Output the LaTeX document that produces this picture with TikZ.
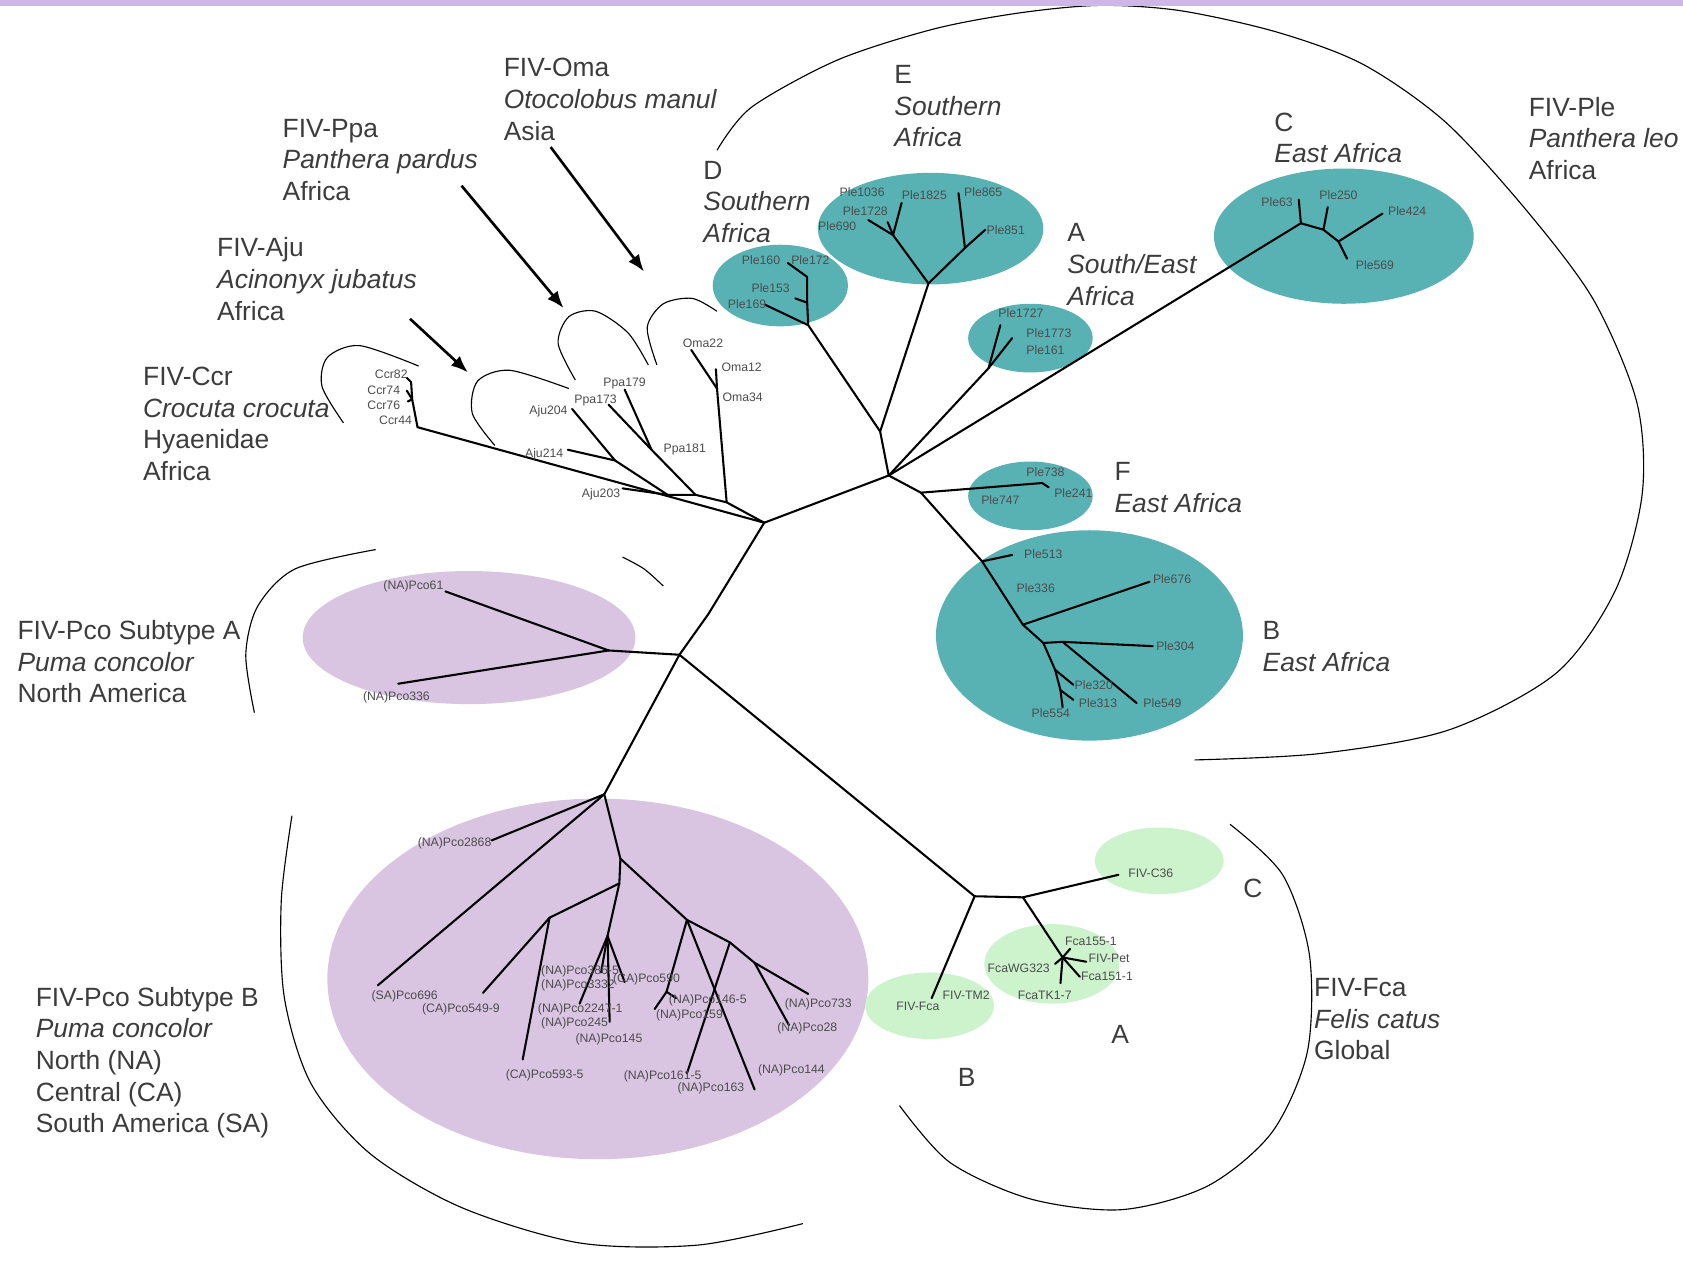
\documentclass[tikz,border=0pt]{standalone}
\usepackage{fontspec}
\setmainfont{Liberation Sans}
\usetikzlibrary{arrows.meta}
\definecolor{lionteal}{RGB}{88,178,180}
\definecolor{pumalilac}{RGB}{217,196,226}
\definecolor{catgreen}{RGB}{205,243,205}
\definecolor{topband}{RGB}{205,183,230}
\definecolor{labelgray}{RGB}{60,60,60}

\begin{document}
\begin{tikzpicture}[x=0.02cm,y=-0.02cm,>={Latex[length=9pt,width=7pt]},
  branch/.style={line width=1.1pt,line cap=round,line join=round},
  bracket/.style={line width=0.6pt},
  pointer/.style={->,line width=1.4pt},
  grp/.style={anchor=west,align=left,inner sep=0pt,text=labelgray,font=\fontsize{14}{16.8}\selectfont},
  leaf/.style={anchor=west,inner sep=0.5pt,text=black!70,font=\fontsize{6.5}{7}\selectfont},
  leafr/.style={leaf,anchor=east}]
\useasboundingbox (0,0) rectangle (1568,1174);

% coloured clades
\fill[lionteal] (867,213) ellipse [x radius=105, y radius=52];
\fill[lionteal] (727,266) ellipse [x radius=63, y radius=38];
\fill[lionteal] (960,315) ellipse [x radius=58, y radius=32];
\fill[lionteal] (1252,220) ellipse [x radius=121, y radius=63];
\fill[lionteal] (960,462) ellipse [x radius=58, y radius=32];
\fill[lionteal] (1015,592) ellipse [x radius=143, y radius=98];
\fill[pumalilac] (437,594) ellipse [x radius=155, y radius=62];
\fill[pumalilac] (557,912) ellipse [x radius=252, y radius=168];
\fill[catgreen] (1080,802) ellipse [x radius=60, y radius=31];
\fill[catgreen] (980,898) ellipse [x radius=63, y radius=37];
\fill[catgreen] (866,937) ellipse [x radius=60, y radius=31];

% brackets round the groups
\draw[bracket] plot[smooth] coordinates {(668,140) (700,100) (780,56) (870,27) (950,12) (1025,5) (1100,10) (1190,30) (1270,60) (1347,114) (1423,197) (1485,280) (1525,375) (1530,460) (1505,550) (1450,627) (1350,680) (1230,702) (1113,708)};
\draw[bracket] plot[smooth] coordinates {(320,394) (300,360) (305,333) (335,322) (390,341)};
\draw[bracket] plot[smooth] coordinates {(461,415) (440,385) (445,355) (475,345) (530,362)};
\draw[bracket] plot[smooth] coordinates {(536,354) (520,320) (530,295) (555,290) (585,310) (604,340)};
\draw[bracket] plot[smooth] coordinates {(612,340) (603,305) (618,283) (645,278) (668,290)};
\draw[bracket] plot[smooth] coordinates {(237,664) (229,610) (240,565) (275,530) (350,512)};
\draw[bracket] plot[smooth] coordinates {(580,519) (600,530) (618,546)};
\draw[bracket] plot[smooth] coordinates {(1146,768) (1195,815) (1220,890) (1218,980) (1185,1055) (1125,1105) (1045,1127) (960,1117) (885,1083) (838,1030)};
\draw[bracket] plot[smooth] coordinates {(272,760) (262,840) (265,930) (290,1010) (345,1075) (430,1125) (540,1158) (650,1160) (748,1140)};

\fill[topband] (0,0) rectangle (1568,5.5);

% backbone
\coordinate (n1) at (712,487);
\coordinate (n2) at (660,572);
\coordinate (n3) at (633,610);
\coordinate (L0) at (828,443);
\draw[branch] (n1) -- (L0);
\draw[branch] (n1) -- (n2) -- (n3);

% hyena
\coordinate (ccr0) at (389,398);
\coordinate (ccr1) at (384,372);
\coordinate (ccr2) at (383,356);
\coordinate (t82) at (379,352);
\coordinate (t74) at (379,364);
\coordinate (t76) at (380,374);
\draw[branch] (n1) -- (ccr0) -- (ccr1) -- (ccr2) -- (t82);
\draw[branch] (ccr1) -- (t74);
\draw[branch] (ccr1) -- (t76);
\node[leafr] (ccr82) at (381,349) {Ccr82};
\node[leafr] (ccr74) at (374,364) {Ccr74};
\node[leafr] (ccr76) at (374,378) {Ccr76};
\node[leafr] (ccr44) at (385,392) {Ccr44};

% cheetah, leopard, manul
\coordinate (g1) at (677,468);
\coordinate (g2) at (648,461);
\coordinate (g3) at (622,461);
\coordinate (o1) at (668,362);
\coordinate (p1) at (607,419);
\coordinate (j1) at (573,429);
\draw[branch] (n1) -- (g1) -- (g2) -- (g3);
\draw[branch] (g1) -- (o1) -- (644,326);
\draw[branch] (o1) -- (667,344);
\draw[branch] (g2) -- (p1) -- (582,363);
\draw[branch] (p1) -- (567,377);
\draw[branch] (g3) -- (j1) -- (533,381);
\draw[branch] (j1) -- (529,419);
\draw[branch] (g3) -- (580,455);
\node[leaf] (oma22) at (635,320) {Oma22};
\node[leaf] (oma12) at (671,342) {Oma12};
\node[leaf] (oma34) at (672,370) {Oma34};
\node[leaf] (ppa179) at (561,357) {Ppa179};
\node[leaf] (ppa173) at (534,373) {Ppa173};
\node[leaf] (ppa181) at (617,419) {Ppa181};
\node[leafr] (aju204) at (530,383) {Aju204};
\node[leafr] (aju214) at (526,423) {Aju214};
\node[leafr] (aju203) at (579,461) {Aju203};

% lion clades
\coordinate (ed0) at (820,402);
\coordinate (d0) at (753,303);
\coordinate (d1) at (752,282);
\coordinate (d2) at (752,258);
\coordinate (e0) at (865,264);
\coordinate (e1) at (832,219);
\coordinate (e2) at (899,231);
\draw[branch] (L0) -- (ed0) -- (d0) -- (d1) -- (d2) -- (734,245);
\draw[branch] (d1) -- (741,278);
\draw[branch] (d0) -- (713,284);
\draw[branch] (ed0) -- (e0) -- (e1) -- (809,205);
\draw[branch] (e1) -- (840,189);
\draw[branch] (e1) -- (827,207);
\draw[branch] (e0) -- (e2) -- (893,180);
\draw[branch] (e2) -- (918,214);
\node[leaf] (ple160) at (690,242) {Ple160};
\node[leaf] (ple172) at (736,242) {Ple172};
\node[leaf] (ple153) at (699,268) {Ple153};
\node[leaf] (ple169) at (677,283) {Ple169};
\node[leaf] (ple1036) at (781,179) {Ple1036};
\node[leaf] (ple1825) at (839,182) {Ple1825};
\node[leaf] (ple865) at (897,179) {Ple865};
\node[leaf] (ple1728) at (784,197) {Ple1728};
\node[leaf] (ple690) at (761,211) {Ple690};
\node[leaf] (ple851) at (918,214) {Ple851};

\coordinate (a0) at (921,343);
\draw[branch] (L0) -- (a0) -- (932,303);
\draw[branch] (a0) -- (943,315);
\node[leaf] (ple1727) at (929,292) {Ple1727};
\node[leaf] (ple1773) at (955,310) {Ple1773};
\node[leaf] (ple161) at (955,326) {Ple161};

\coordinate (c0) at (1212,208);
\coordinate (c1) at (1233,214);
\coordinate (c2) at (1247,225);
\draw[branch] (L0) -- (c0) -- (1210,186);
\draw[branch] (c0) -- (c1) -- (1237,193);
\draw[branch] (c1) -- (c2) -- (1288,199);
\draw[branch] (c2) -- (1255,241);
\node[leaf] (ple63) at (1174,188) {Ple63};
\node[leaf] (ple250) at (1228,182) {Ple250};
\node[leaf] (ple424) at (1292,197) {Ple424};
\node[leaf] (ple569) at (1262,247) {Ple569};

\coordinate (fb0) at (858,459);
\coordinate (f0) at (971,450);
\draw[branch] (L0) -- (fb0) -- (f0) -- (977,454);
\node[leaf] (ple738) at (955,440) {Ple738};
\node[leaf] (ple241) at (981,459) {Ple241};
\node[leaf] (ple747) at (913,466) {Ple747};

\coordinate (b1) at (915,523);
\coordinate (b2) at (953,582);
\coordinate (b3) at (972,599);
\coordinate (b4) at (990,598);
\coordinate (b5) at (983,624);
\coordinate (b6) at (988,643);
\draw[branch] (fb0) -- (b1) -- (b2) -- (b3) -- (b5) -- (b6) -- (990,659);
\draw[branch] (b1) -- (943,517);
\draw[branch] (b2) -- (1071,542);
\draw[branch] (b3) -- (b4) -- (1074,602);
\draw[branch] (b4) -- (1059,655);
\draw[branch] (b5) -- (1000,638);
\draw[branch] (b6) -- (1000,652);
\node[leaf] (ple513) at (953,516) {Ple513};
\node[leaf] (ple336) at (946,548) {Ple336};
\node[leaf] (ple676) at (1073,540) {Ple676};
\node[leaf] (ple304) at (1076,602) {Ple304};
\node[leaf] (ple320) at (1000,638) {Ple320};
\node[leaf] (ple313) at (1004,655) {Ple313};
\node[leaf] (ple549) at (1064,655) {Ple549};
\node[leaf] (ple554) at (960,664) {Ple554};

% puma subtype A
\coordinate (pa0) at (567,606);
\draw[branch] (n3) -- (pa0) -- (415,551);
\draw[branch] (pa0) -- (371,637);
\node[leaf] (pco61) at (356,546) {(NA)Pco61};
\node[leaf] (pco336) at (337,650) {(NA)Pco336};

% puma subtype B
\coordinate (pb0) at (563,740);
\coordinate (pb1) at (578,800);
\coordinate (pb2) at (577,823);
\coordinate (cl0) at (512,855);
\coordinate (cc0) at (566,872);
\coordinate (cr0) at (640,857);
\coordinate (crA) at (621,924);
\coordinate (cr1) at (680,878);
\coordinate (cr2) at (703,897);
\draw[branch] (n3) -- (pb0) -- (pb1) -- (pb2) -- (cl0) -- (450,925);
\draw[branch] (pb0) -- (458,783);
\draw[branch] (pb0) -- (352,918);
\draw[branch] (cl0) -- (487,987);
\draw[branch] (pb2) -- (cc0) -- (540,935);
\draw[branch] (cc0) -- (568,952);
\draw[branch] (cc0) -- (582,915);
\draw[branch] (cc0) -- (560,906);
\draw[branch] (pb1) -- (cr0) -- (crA) -- (610,940);
\draw[branch] (crA) -- (630,930);
\draw[branch] (cr0) -- (703,1015);
\draw[branch] (cr0) -- (cr1) -- (640,1000);
\draw[branch] (cr1) -- (cr2) -- (753,926);
\draw[branch] (cr2) -- (735,955);
\node[leaf] (pco2868) at (388,786) {(NA)Pco2868};
\node[leaf] (pco696) at (345,928) {(SA)Pco696};
\node[leaf] (pco549) at (392,940) {(CA)Pco549-9};
\node[leaf] (pco386) at (503,905) {(NA)Pco386-5};
\node[leaf] (pco3332) at (503,918) {(NA)Pco3332};
\node[leaf] (pco590) at (570,912) {(CA)Pco590};
\node[leaf] (pco2247) at (500,940) {(NA)Pco2247-1};
\node[leaf] (pco245) at (503,953) {(NA)Pco245};
\node[leaf] (pco145) at (535,968) {(NA)Pco145};
\node[leaf] (pco146) at (622,932) {(NA)Pco146-5};
\node[leaf] (pco159) at (610,946) {(NA)Pco159};
\node[leaf] (pco733) at (730,936) {(NA)Pco733};
\node[leaf] (pco28) at (723,958) {(NA)Pco28};
\node[leaf] (pco593) at (470,1002) {(CA)Pco593-5};
\node[leaf] (pco161) at (580,1003) {(NA)Pco161-5};
\node[leaf] (pco163) at (630,1014) {(NA)Pco163};
\node[leaf] (pco144) at (705,997) {(NA)Pco144};

% domestic cat
\coordinate (fca0) at (908,835);
\coordinate (fca1) at (953,836);
\coordinate (fa0) at (990,892);
\draw[branch] (n3) -- (fca0) -- (fca1) -- (1042,815);
\draw[branch] (fca1) -- (fa0) -- (997,884);
\draw[branch] (fa0) -- (1012,896);
\draw[branch] (fa0) -- (1006,910);
\draw[branch] (fa0) -- (988,916);
\draw[branch] (fa0) -- (983,898);
\draw[branch] (fca0) -- (868,930);
\node[leaf] (c36) at (1050,814) {FIV-C36};
\node[leaf] (fca155) at (991,877) {Fca155-1};
\node[leaf] (pet) at (1013,893) {FIV-Pet};
\node[leaf] (fca151) at (1006,910) {Fca151-1};
\node[leaf] (wg323) at (919,902) {FcaWG323};
\node[leaf] (tk17) at (947,927) {FcaTK1-7};
\node[leaf] (tm2) at (877,927) {FIV-TM2};
\node[leaf] (fivfca) at (834,938) {FIV-Fca};

% pointers
\coordinate (omaFrom) at (513,137);
\coordinate (omaTo) at (600,253);
\coordinate (ppaFrom) at (430,173);
\coordinate (ppaTo) at (525,287);
\coordinate (ajuFrom) at (382,297);
\coordinate (ajuTo) at (436,347);
\draw[pointer] (omaFrom) -- (omaTo);
\draw[pointer] (ppaFrom) -- (ppaTo);
\draw[pointer] (ajuFrom) -- (ajuTo);

% group labels
\node[grp] (omaL) at (469,92.5) {FIV-Oma\\\textit{Otocolobus manul}\\Asia};
\node[grp] (cladeE) at (833,99) {E\\\textit{Southern}\\\textit{Africa}};
\node[grp] (cladeC) at (1187,128.5) {C\\\textit{East Africa}};
\node[grp] (pleL) at (1424,129) {FIV-Ple\\\textit{Panthera leo}\\Africa};
\node[grp] (ppaL) at (263,149) {FIV-Ppa\\\textit{Panthera pardus}\\Africa};
\node[grp] (cladeD) at (655,188) {D\\\textit{Southern}\\\textit{Africa}};
\node[grp] (cladeA) at (994,246.5) {A\\\textit{South/East}\\\textit{Africa}};
\node[grp] (ajuL) at (202,260) {FIV-Aju\\\textit{Acinonyx jubatus}\\Africa};
\node[grp] (ccrL) at (133,395) {FIV-Ccr\\\textit{Crocuta crocuta}\\Hyaenidae\\Africa};
\node[grp] (cladeF) at (1038,454) {F\\\textit{East Africa}};
\node[grp] (cladeB) at (1176,602.5) {B\\\textit{East Africa}};
\node[grp] (pcoAL) at (16,616.5) {FIV-Pco Subtype A\\\textit{Puma concolor}\\North America};
\node[grp] (fcaC) at (1158,828) {C};
\node[grp] (fcaL) at (1224,949.5) {FIV-Fca\\\textit{Felis catus}\\Global};
\node[grp] (fcaA) at (1035,964) {A};
\node[grp] (fcaB) at (892,1004) {B};
\node[grp] (pcoBL) at (33,990) {FIV-Pco Subtype B\\\textit{Puma concolor}\\North (NA)\\Central (CA)\\South America (SA)};
\end{tikzpicture}
\end{document}
